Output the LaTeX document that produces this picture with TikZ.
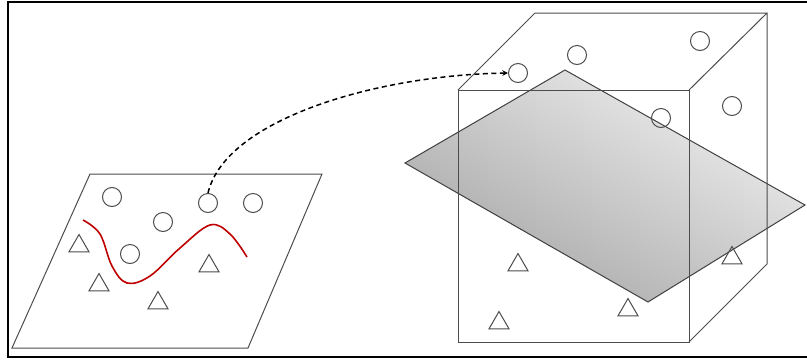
\documentclass[tikz,border=0pt]{standalone}
\usetikzlibrary{shapes.geometric}
\begin{document}
\begin{tikzpicture}[>=stealth, x=1pt, y=-1pt, line width=1pt,
  dot/.style={draw=black!70, circle, minimum size=19pt, inner sep=0pt},
  tri/.style={draw=black!70, regular polygon, regular polygon sides=3, minimum size=23pt, inner sep=0pt}]
			\useasboundingbox (0,0) rectangle (807,360);
			\draw[line width=2pt] (807,2)--(8,2)--(8,357)--(807,357);
			% left plane
			\draw[black!70] (90,174)--(322,174)--(248,348)--(12,348)--cycle;
			\node[dot] (a1) at (112,197) {};
			\node[dot] (a2) at (163,222) {};
			\node[dot] (a3) at (208,203) {};
			\node[dot] (a4) at (253,203) {};
			\node[dot] (a5) at (130,254) {};
			\node[tri] (t1) at (79,246) {};
			\node[tri] (t2) at (99,285) {};
			\node[tri] (t3) at (158,303) {};
			\node[tri] (t4) at (209,266) {};
			\draw[red!75!black, line width=1.6pt] plot[smooth, tension=0.6] coordinates {(83,220) (100,234) (112,266) (127,283) (150,276) (180,248) (210,225) (230,234) (247,257)};
			% separating plane
			\shade[top color=gray!12, bottom color=gray!70, shading angle=-30, draw=black!75] (405,163)--(565,70)--(805,205)--(648,302)--cycle;
			% box
			\draw[black!70] (458,90) rectangle (689,342);
			\draw[black!70] (458,90)--(535,13)--(767,13)--(689,90) (767,13)--(767,264)--(689,342);
			\node[dot] (b1) at (518,73) {};
			\node[dot] (b2) at (577,55) {};
			\node[dot] (b3) at (700,41) {};
			\node[dot] (b4) at (732,106) {};
			\node[dot] (b5) at (661,118) {};
			\node[tri] (s1) at (518,265) {};
			\node[tri] (s2) at (499,323) {};
			\node[tri] (s3) at (628,310) {};
			\node[tri] (s4) at (732,258) {};
			\draw[->, dash pattern=on 5pt off 3.5pt, line width=1.5pt] (a3.north) .. controls (226,118) and (380,75) .. (b1.west);
		\end{tikzpicture}
\end{document}
